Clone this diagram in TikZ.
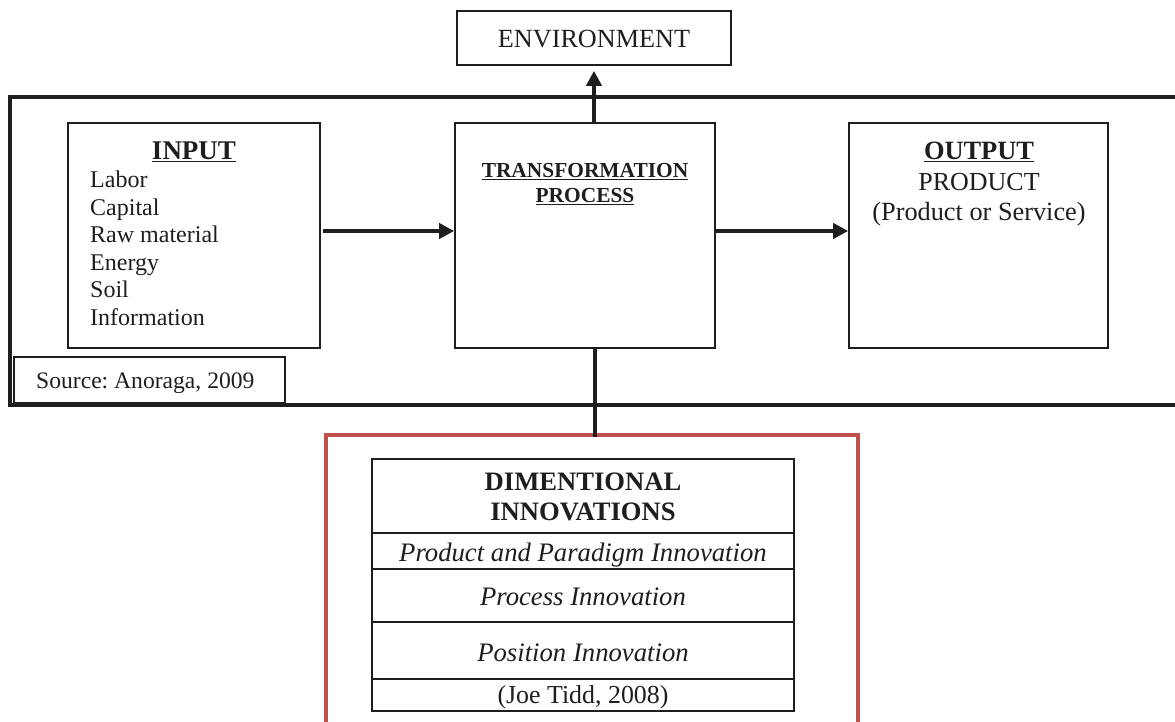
\documentclass[tikz,border=0pt]{standalone}
\usepackage{fontspec}
\setmainfont{Liberation Serif}
\frenchspacing
\usetikzlibrary{arrows.meta}
\definecolor{redframe}{RGB}{192,80,77}
\definecolor{ink}{RGB}{30,30,30}
\tikzset{
  box/.style={draw=ink, line width=1.6pt, minimum width=#1, inner sep=0pt},
  tcell/.style={draw=ink, line width=2pt, minimum width=422pt, inner sep=0pt},
  bigarrow/.style={draw=ink, line width=4pt, -{Triangle[length=15pt,width=15pt]}},
  txt/.style={inner sep=0pt, text=ink},
  item/.style={txt, font=\fs{24}, anchor=base west},
}
\newcommand{\fs}[1]{\fontsize{#1}{#1}\selectfont}
\begin{document}
\begin{tikzpicture}[x=1pt,y=-1pt]
\useasboundingbox (0,0) rectangle (1175,722);
% outer frames
\draw[ink, line width=4pt] (10,97) rectangle (1190,405);
\draw[redframe, line width=4pt] (326,435) rectangle (858,740);
% environment
\node[box=274pt, minimum height=54pt] (env) at (594,38) {};
\node[txt, font=\fs{26.2}] (envt) at (594,39) {ENVIRONMENT};
% input
\node[box=252pt, minimum height=225pt] (inp) at (194,235.5) {};
\node[txt, font=\bfseries\fs{27}, anchor=base] (inpt) at (194,160) {\underline{INPUT}};
\node[item] (l1) at (90,187.7) {Labor};
\node[item] (l2) at (90,215.2) {Capital};
\node[item] (l3) at (90,242.7) {Raw material};
\node[item] (l4) at (90,270.2) {Energy};
\node[item] (l5) at (90,297.7) {Soil};
\node[item] (l6) at (90,325.2) {Information};
% transformation
\node[box=260pt, minimum height=225pt] (trn) at (585,235.5) {};
\node[txt, font=\bfseries\fs{21.4}] (trn1) at (585,172) {\underline{TRANSFORMATION}};
\node[txt, font=\bfseries\fs{21.4}] (trn2) at (585,197) {\underline{PROCESS}};
% output
\node[box=259pt, minimum height=225pt] (out) at (978.5,235.5) {};
\node[txt, font=\bfseries\fs{26.4}, anchor=base] (outt) at (979,160) {\underline{OUTPUT}};
\node[txt, font=\fs{26}, anchor=base] (out1) at (979,190.5) {PRODUCT};
\node[txt, font=\fs{26.3}, anchor=base] (out2) at (979,220.5) {(Product or Service)};
% source
\node[box=271pt, minimum height=46pt, line width=2pt] (src) at (149.5,380) {};
\node[txt, font=\fs{23.6}, anchor=base west] (srct) at (36,388.5) {Source: Anoraga, 2009};
% connectors
\coordinate (a1) at (323,231);
\coordinate (a2) at (716,231);
\draw[bigarrow] (a1) -- (trn.west |- a1);
\draw[bigarrow] (a2) -- (out.west |- a2);
\draw[bigarrow, shorten >=5pt] (trn.north -| env.south) -- (env.south);
\coordinate (rtop) at (595,437);
\draw[ink, line width=4pt] (trn.south -| rtop) -- (rtop);
% innovation table
\node[tcell, minimum height=74pt] (c1) at (583,496) {};
\node[tcell, minimum height=36pt] (c2) at (583,551) {};
\node[tcell, minimum height=53pt] (c3) at (583,595.5) {};
\node[tcell, minimum height=57pt] (c4) at (583,650.5) {};
\node[tcell, minimum height=32pt] (c5) at (583,695) {};
\node[txt, font=\bfseries\fs{26.6}, align=center] (c1t) at (583,497) {DIMENTIONAL\\[3pt]INNOVATIONS};
\node[txt, font=\itshape\fs{26.7}, anchor=base] (c2t) at (583,561) {Product and Paradigm Innovation};
\node[txt, font=\itshape\fs{26.7}, anchor=base] (c3t) at (583,605) {Process Innovation};
\node[txt, font=\itshape\fs{26.7}, anchor=base] (c4t) at (583,661) {Position Innovation};
\node[txt, font=\fs{25.9}, anchor=base] (c5t) at (583,703) {(Joe Tidd, 2008)};
\end{tikzpicture}
\end{document}
